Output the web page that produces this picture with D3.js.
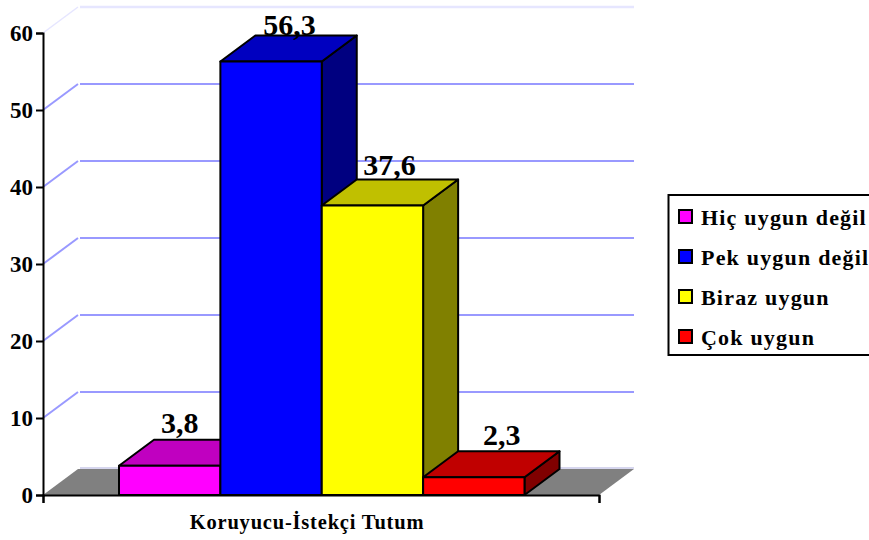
<!DOCTYPE html>
<html>
<head>
<meta charset="utf-8">
<script src="https://cdn.jsdelivr.net/npm/d3@7"></script>
<style>
  html, body { margin: 0; padding: 0; background: #fff; overflow: hidden; }
  text { font-family: "Liberation Serif", serif; font-weight: 700; fill: #000; }
</style>
</head>
<body>
<div id="chart"></div>
<script>
const categories = ["Hiç uygun değil", "Pek uygun değil", "Biraz uygun", "Çok uygun"];
const values = [3.8, 56.3, 37.6, 2.3];
const valueLabels = ["3,8", "56,3", "37,6", "2,3"];
const yTicks = [0, 10, 20, 30, 40, 50, 60];
const axisTitle = "Koruyucu-İstekçi Tutum";

const frontColors = ["#ff00ff", "#0000ff", "#ffff00", "#ff0000"];
const topColors = ["#c000c0", "#0000c0", "#c0c000", "#c00000"];
const sideColors = ["#800080", "#000080", "#808000", "#800000"];

const width = 869, height = 540;
const plotLeft = 43, plotRight = 599;
const depthX = 35, depthY = 26;

const svg = d3.select("#chart").append("svg")
  .attr("width", width)
  .attr("height", height)
  .style("display", "block");

const y = d3.scaleLinear().domain([0, 60]).range([495, 33]);
const x = d3.scaleBand().domain(categories).range([119, 524.5]);

const poly = pts => pts.map(p => p.join(",")).join(" ");

// back wall grid lines, the top one is much paler and there is a small gap at the corner
const grid = svg.append("g");
yTicks.filter(t => t > 0).forEach(t => {
  const pale = t === 60;
  const color = pale ? "#e6e6ff" : "#9999ff";
  const sw = pale ? 2.6 : 2;
  grid.append("line")
    .attr("x1", plotLeft).attr("y1", y(t))
    .attr("x2", plotLeft + depthX).attr("y2", y(t) - depthY)
    .attr("stroke", color).attr("stroke-width", pale ? 1.5 : 2);
  grid.append("line")
    .attr("x1", plotLeft + depthX + 2).attr("y1", y(t) - depthY)
    .attr("x2", plotRight + depthX).attr("y2", y(t) - depthY)
    .attr("stroke", color).attr("stroke-width", sw);
});

// floor
svg.append("polygon")
  .attr("points", poly([[plotLeft, y(0)], [plotLeft + depthX, y(0) - depthY], [plotRight + depthX, y(0) - depthY], [plotRight, y(0)]]))
  .attr("fill", "#808080");
svg.append("line")
  .attr("x1", plotLeft + depthX + 2).attr("y1", y(0) - depthY - 1)
  .attr("x2", plotRight + depthX).attr("y2", y(0) - depthY - 1)
  .attr("stroke", "#c8c8e8")
  .attr("stroke-width", 1.5);

// bars
const bars = svg.append("g")
  .attr("stroke", "#000")
  .attr("stroke-width", 2)
  .attr("stroke-linejoin", "round");

categories.forEach((c, i) => {
  const x0 = x(c), x1 = x0 + x.bandwidth();
  const yTop = y(values[i]), yBase = y(0);
  bars.append("polygon")
    .attr("points", poly([[x1, yTop], [x1 + depthX, yTop - depthY], [x1 + depthX, yBase - depthY], [x1, yBase]]))
    .attr("fill", sideColors[i]);
  bars.append("polygon")
    .attr("points", poly([[x0, yTop], [x0 + depthX, yTop - depthY], [x1 + depthX, yTop - depthY], [x1, yTop]]))
    .attr("fill", topColors[i]);
  bars.append("rect")
    .attr("x", x0)
    .attr("y", yTop)
    .attr("width", x.bandwidth())
    .attr("height", yBase - yTop)
    .attr("fill", frontColors[i]);
});

// value labels, nudged one by one because they don't sit evenly on the bars
const labelDx = [10, 18.5, 17, 28];
const labelDy = [33, 26.5, 30.5, 32];
svg.append("g").selectAll("text")
  .data(categories)
  .join("text")
  .attr("x", (d, i) => x(d) + x.bandwidth() / 2 + labelDx[i])
  .attr("y", (d, i) => y(values[i]) - labelDy[i])
  .attr("text-anchor", "middle")
  .style("font-size", "30px")
  .text((d, i) => valueLabels[i]);

// axes
const yAxis = svg.append("g")
  .attr("transform", `translate(${plotLeft},0)`)
  .call(d3.axisLeft(y).tickValues(yTicks).tickSize(7).tickPadding(3));
yAxis.selectAll("text").style("font-size", "23px");
yAxis.selectAll("line, path").attr("stroke", "#000").attr("stroke-width", 2);

const xAxis = d3.scaleLinear().domain([0, 1]).range([plotLeft, plotRight]);
const xAxisG = svg.append("g")
  .attr("transform", `translate(0,${y(0)})`)
  .call(d3.axisBottom(xAxis).tickValues([0, 1]).tickSize(8).tickFormat(""));
xAxisG.selectAll("line, path").attr("stroke", "#000").attr("stroke-width", 2);

svg.append("text")
  .attr("x", 307)
  .attr("y", 529)
  .attr("text-anchor", "middle")
  .style("font-size", "20.5px")
  .style("letter-spacing", "0.8px")
  .text(axisTitle);

// legend, its right side runs off the page
const legend = svg.append("g");
legend.append("rect")
  .attr("x", 668.5)
  .attr("y", 195)
  .attr("width", 260)
  .attr("height", 160)
  .attr("fill", "#fff")
  .attr("stroke", "#000")
  .attr("stroke-width", 2);

const legendY = d3.scalePoint().domain(categories).range([217, 337]);

const legendRows = legend.selectAll("g.row")
  .data(categories)
  .join("g")
  .attr("class", "row")
  .attr("transform", d => `translate(0,${legendY(d)})`);

legendRows.append("rect")
  .attr("x", 679)
  .attr("y", -7)
  .attr("width", 13)
  .attr("height", 13)
  .attr("fill", (d, i) => frontColors[i])
  .attr("stroke", "#000")
  .attr("stroke-width", 2);

legendRows.append("text")
  .attr("x", 701)
  .attr("y", 7.5)
  .style("font-size", "22px")
  .style("letter-spacing", "1.2px")
  .text(d => d);
</script>
</body>
</html>
